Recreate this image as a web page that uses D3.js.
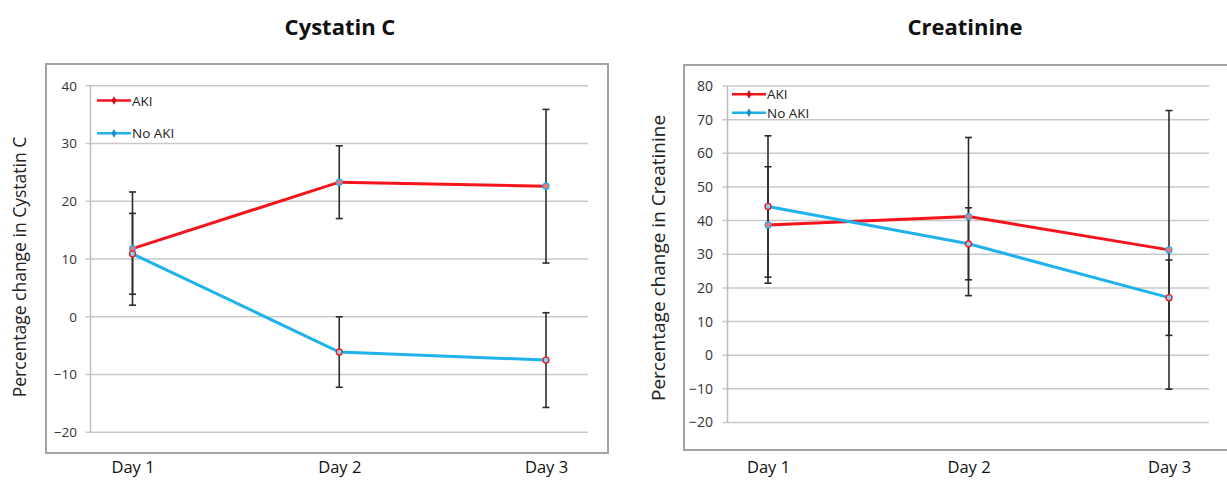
<!DOCTYPE html>
<html>
<head>
<meta charset="utf-8">
<script src="https://cdn.jsdelivr.net/npm/d3@7"></script>
<style>
  body { margin: 0; background: #fff; }
  svg { display: block; font-family: 'Open Sans', sans-serif; }
</style>
</head>
<body>
<script>
const days = ['Day 1', 'Day 2', 'Day 3'];
const seriesNames = ['AKI', 'No AKI'];

const cysTicks = [-20, -10, 0, 10, 20, 30, 40];
const cysAki = [11.8, 23.3, 22.6];
const cysAkiErr = [9.8, 6.3, 13.3];
const cysNoAki = [10.9, -6.1, -7.5];
const cysNoAkiErr = [7.0, 6.1, 8.2];

const creTicks = [-20, -10, 0, 10, 20, 30, 40, 50, 60, 70, 80];
const creAki = [38.7, 41.2, 31.3];
const creAkiErr = [17.3, 23.5, 41.4];
const creNoAki = [44.2, 33.1, 17.1];
const creNoAkiErr = [21.0, 10.7, 11.2];

const w = 1227;
const h = 480;
const red = '#f5141b';
const blue = '#1fb2ec';

const svg = d3.select('body').append('svg').attr('width', w).attr('height', h);

const drawPanel = (p) => {
  const g = svg.append('g');

  // outer frame
  g.append('rect')
    .attr('x', p.box[0]).attr('y', p.box[1])
    .attr('width', p.box[2] - p.box[0]).attr('height', p.box[3] - p.box[1])
    .attr('fill', 'none').attr('stroke', '#a3a3a3').attr('stroke-width', 2);

  g.append('text')
    .attr('x', p.titleX).attr('y', 35)
    .attr('text-anchor', 'middle')
    .attr('font-size', 22).attr('font-weight', 700)
    .attr('fill', '#111')
    .text(p.title);

  const x = d3.scalePoint().domain(days).range(p.xRange);
  const y = d3.scaleLinear().domain(d3.extent(p.ticks)).range(p.yRange);

  // gridlines
  g.append('g')
    .selectAll('line')
    .data(p.ticks)
    .enter()
    .append('line')
    .attr('x1', p.axisX - 5).attr('x2', p.gridEnd)
    .attr('y1', (d) => y(d)).attr('y2', (d) => y(d))
    .attr('stroke', '#c9c9c9').attr('stroke-width', 1.5);

  g.append('line')
    .attr('x1', p.axisX).attr('x2', p.axisX)
    .attr('y1', y(p.ticks[p.ticks.length - 1])).attr('y2', y(p.ticks[0]))
    .attr('stroke', '#bdbdbd').attr('stroke-width', 1.5);

  const yAxis = d3.axisLeft(y).tickValues(p.ticks).tickSize(0).tickPadding(0);
  const ya = g.append('g')
    .attr('transform', `translate(${p.labelX},0)`)
    .call(yAxis);
  ya.select('.domain').remove();
  ya.selectAll('text')
    .attr('font-family', "'Open Sans', sans-serif")
    .attr('font-size', p.tickSize).attr('fill', '#333');

  const xAxis = d3.axisBottom(x).tickSize(0).tickPadding(0);
  const xa = g.append('g')
    .attr('transform', `translate(0,${p.dayY})`)
    .call(xAxis);
  xa.select('.domain').remove();
  xa.selectAll('text')
    .attr('font-family', "'Open Sans', sans-serif")
    .attr('font-size', 16.5).attr('fill', '#111');

  g.append('text')
    .attr('transform', `translate(${p.yTitleX},${p.yTitleY}) rotate(-90)`)
    .attr('text-anchor', 'middle')
    .attr('font-size', p.yTitleSize).attr('fill', '#222')
    .text(p.yTitle);

  const series = [
    { name: seriesNames[0], vals: p.aki, err: p.akiErr, color: red, ring: blue },
    { name: seriesNames[1], vals: p.noAki, err: p.noAkiErr, color: blue, ring: red },
  ];

  // error bars
  series.forEach((s) => {
    const eb = g.append('g');
    days.forEach((d, i) => {
      const top = y(s.vals[i] + s.err[i]);
      const bot = y(s.vals[i] - s.err[i]);
      eb.append('line')
        .attr('x1', x(d)).attr('x2', x(d)).attr('y1', top).attr('y2', bot)
        .attr('stroke', '#2b2b2b').attr('stroke-width', 1.6);
      [top, bot].forEach((yy) => {
        eb.append('line')
          .attr('x1', x(d) - 3.5).attr('x2', x(d) + 3.5).attr('y1', yy).attr('y2', yy)
          .attr('stroke', '#2b2b2b').attr('stroke-width', 1.6);
      });
    });
  });

  const line = d3.line().x((d, i) => x(days[i])).y((d) => y(d));

  series.forEach((s) => {
    g.append('path')
      .datum(s.vals)
      .attr('d', line)
      .attr('fill', 'none')
      .attr('stroke', s.color)
      .attr('stroke-width', 3);
    g.selectAll(null)
      .data(s.vals)
      .enter()
      .append('circle')
      .attr('cx', (d, i) => x(days[i]))
      .attr('cy', (d) => y(d))
      .attr('r', 3)
      .attr('fill', s.ring === blue ? '#ff6f6f' : '#7fd3f5')
      .attr('stroke', s.ring)
      .attr('stroke-width', 1.3);
  });

  // legend
  const lg = g.append('g');
  series.forEach((s, i) => {
    const ly = p.legendY[i];
    lg.append('line')
      .attr('x1', p.legendX).attr('x2', p.legendX + 34)
      .attr('y1', ly).attr('y2', ly)
      .attr('stroke', s.color).attr('stroke-width', 2.5);
    lg.append('path')
      .attr('d', d3.symbol().type(d3.symbolDiamond).size(22))
      .attr('transform', `translate(${p.legendX + 17},${ly})`)
      .attr('fill', s.color === red ? '#c8101a' : '#1a8fc4');
    lg.append('text')
      .attr('x', p.legendX + 35).attr('y', ly + 5)
      .attr('font-size', 13.5).attr('fill', '#222')
      .text(s.name);
  });
};

drawPanel({
  title: 'Cystatin C',
  titleX: 340,
  box: [46, 64, 608, 453],
  ticks: cysTicks,
  xRange: [132.5, 546],
  yRange: [432.3, 85.7],
  axisX: 90.5,
  gridEnd: 588,
  labelX: 77,
  tickSize: 13.5,
  dayY: 461,
  yTitle: 'Percentage change in Cystatin C',
  yTitleX: 26,
  yTitleY: 267,
  yTitleSize: 17.5,
  aki: cysAki, akiErr: cysAkiErr,
  noAki: cysNoAki, noAkiErr: cysNoAkiErr,
  legendX: 97,
  legendY: [100.5, 133.3],
});

drawPanel({
  title: 'Creatinine',
  titleX: 965,
  box: [684, 65, 1240, 450],
  ticks: creTicks,
  xRange: [768, 1169],
  yRange: [422.5, 86],
  axisX: 727.5,
  gridEnd: 1209,
  labelX: 713,
  tickSize: 14,
  dayY: 461,
  yTitle: 'Percentage change in Creatinine',
  yTitleX: 665,
  yTitleY: 258,
  yTitleSize: 19,
  aki: creAki, akiErr: creAkiErr,
  noAki: creNoAki, noAkiErr: creNoAkiErr,
  legendX: 732,
  legendY: [94.3, 112.7],
});
</script>
</body>
</html>
